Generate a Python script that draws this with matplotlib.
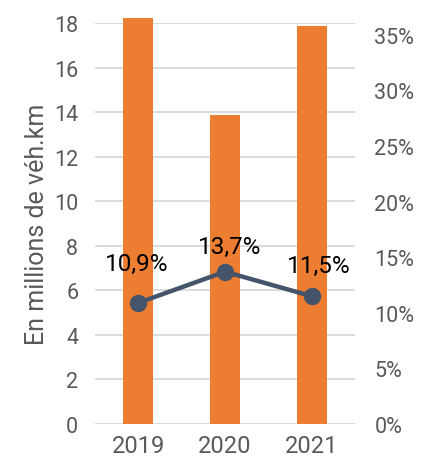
import matplotlib
matplotlib.use("Agg")
import matplotlib.pyplot as plt
from matplotlib.ticker import FuncFormatter

years = ["2019", "2020", "2021"]
vehkm = [18.22, 13.87, 17.86]
share = [10.9, 13.7, 11.5]
share_labels = ["10,9%", "13,7%", "11,5%"]
left_ticks = [0, 2, 4, 6, 8, 10, 12, 14, 16, 18]
right_ticks = [0, 5, 10, 15, 20, 25, 30, 35]

plt.rcParams['font.family'] = ['Roboto', 'DejaVu Sans']

fig = plt.figure(figsize=(4.25, 4.64), dpi=100)
ax = fig.add_axes([0.2235, 0.084, 0.6118, 0.864])
x = list(range(len(years)))
ax.bar(x, vehkm, width=0.345, color="#ED7D31", zorder=2, clip_on=False)
ax.set_xlim(-0.5, 2.5)
ax.set_ylim(0, 18)
ax.set_yticks(left_ticks)
ax.set_xticks(x)
ax.set_xticklabels(years)
ax.grid(axis="y", color="#D9D9D9", linewidth=1.3, zorder=0)
ax.set_axisbelow(True)
for s in ax.spines.values():
    s.set_visible(False)
ax.tick_params(axis="both", length=0, colors="#595959", labelsize=15.5)
ax.tick_params(axis="x", labelsize=17, pad=7)
ax.tick_params(axis="y", pad=12)
ax.set_ylabel("En millions de véh.km", fontsize=18, color="#595959", labelpad=4)

ax2 = ax.twinx()
ax2.set_ylim(0, 36.06)
ax2.set_yticks(right_ticks)
ax2.yaxis.set_major_formatter(FuncFormatter(lambda v, p: f"{int(v)}%"))
for s in ax2.spines.values():
    s.set_visible(False)
ax2.tick_params(axis="y", length=0, colors="#595959", labelsize=15.5, pad=14)
ax2.plot(x, share, color="#44546A", linewidth=3.2, marker="o", markersize=11.5, zorder=3)
offsets = [(-1, 28), (3, 18), (5, 22)]
for xi, yi, lab, off in zip(x, share, share_labels, offsets):
    ax2.annotate(lab, (xi, yi), xytext=off, textcoords="offset points",
                 ha="center", va="center", fontsize=17.5, color="#000000")

fig.savefig("out.png", dpi=100)
